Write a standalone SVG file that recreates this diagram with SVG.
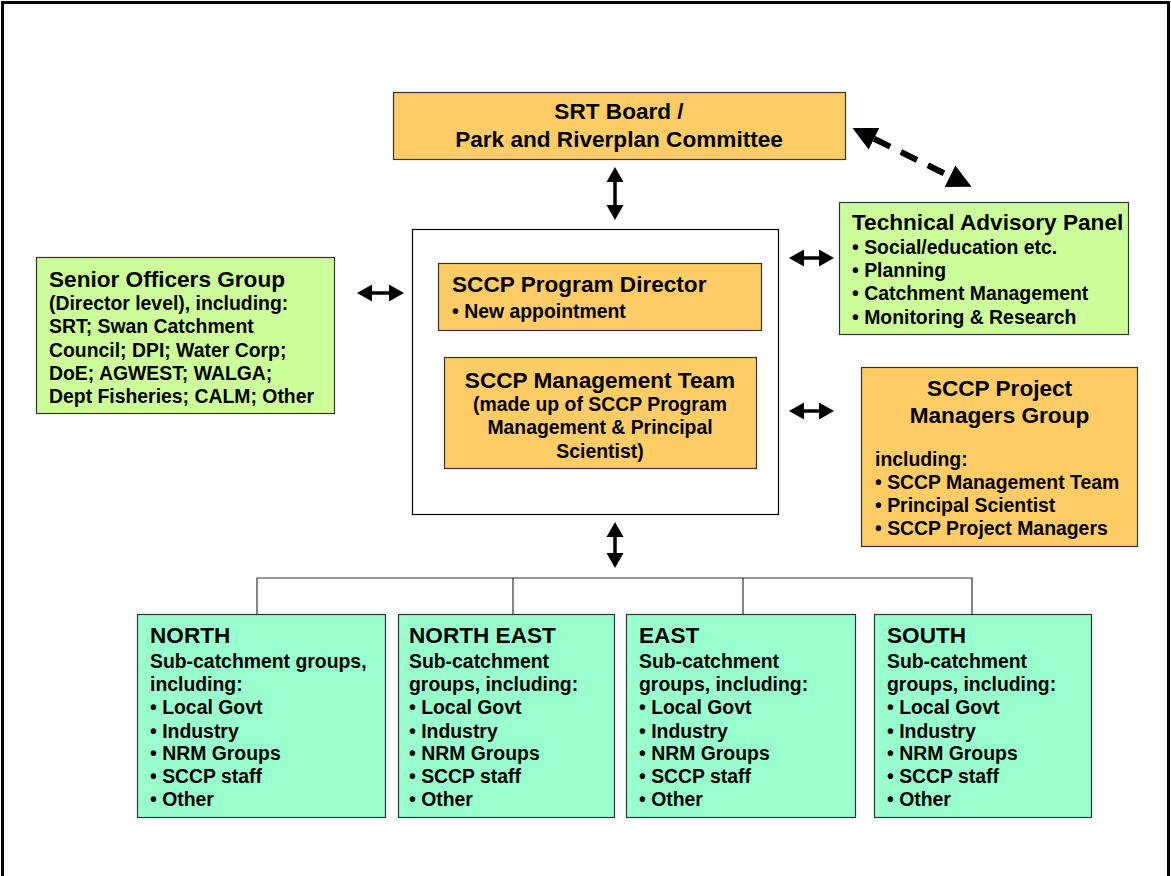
<svg xmlns="http://www.w3.org/2000/svg" width="1171" height="876" viewBox="0 0 1171 876">
<defs>
<style>
text{font-family:"Liberation Sans",Arial,sans-serif;font-weight:bold;fill:#000}
.t{font-size:22.6px}
.s{font-size:19.4px}
.c{text-anchor:middle}
.or{fill:#FFCC66;stroke:#333;stroke-width:1.2}
.lg{fill:#CCFF99;stroke:#333;stroke-width:1.2}
.tg{fill:#99FFCC;stroke:#333;stroke-width:1.2}
.arr{stroke:#000;stroke-width:3.5;fill:none;marker-start:url(#ah);marker-end:url(#ah)}
.dash{stroke:#000;stroke-width:6;fill:none;stroke-dasharray:18 12;marker-start:url(#ahb);marker-end:url(#ahb)}
.tree{stroke:#333;stroke-width:1.2;fill:none}
</style>
<marker id="ah" markerUnits="userSpaceOnUse" viewBox="0 -9 15 18" refX="0" refY="0" markerWidth="15" markerHeight="18" orient="auto-start-reverse">
<path d="M0,-8.5 L15,0 L0,8.5 z" fill="#000"/>
</marker>
<marker id="ahb" markerUnits="userSpaceOnUse" viewBox="0 -13 24 26" refX="0" refY="0" markerWidth="24" markerHeight="26" orient="auto-start-reverse">
<path d="M0,-12 L24,0 L0,12 z" fill="#000"/>
</marker>
</defs>
<rect x="2.5" y="2.5" width="1166" height="900" fill="#fff" stroke="#000" stroke-width="3"/>

<g id="connectors">
<line class="arr" x1="615" y1="182" x2="615" y2="205"/>
<line class="dash" x1="874" y1="138.7" x2="950" y2="176.2"/>
<line class="arr" x1="372" y1="293" x2="389" y2="293"/>
<line class="arr" x1="804" y1="258" x2="819" y2="258"/>
<line class="arr" x1="804" y1="411" x2="819" y2="411"/>
<line class="arr" x1="615" y1="537" x2="615" y2="553"/>
<path class="tree" d="M257,614 V578 H972 V614 M513,578 V614 M743,578 V614"/>
</g>

<g id="srt-board">
<rect class="or" x="393.5" y="92.5" width="452" height="67"/>
<text class="t c" x="619" y="119">SRT Board /</text>
<text class="t c" x="619" y="147">Park and Riverplan Committee</text>
</g>

<g id="sccp-core">
<rect x="412.5" y="229.5" width="366" height="285" fill="#fff" stroke="#000" stroke-width="1.2"/>
</g>

<g id="program-director">
<rect class="or" x="438.5" y="263.5" width="323" height="67"/>
<text class="t" x="452" y="292">SCCP Program Director</text>
<text class="s" x="452" y="318">• New appointment</text>
</g>

<g id="management-team">
<rect class="or" x="444.5" y="357.5" width="312" height="111"/>
<text class="t c" x="600" y="388">SCCP Management Team</text>
<text class="s c" x="600" y="411">(made up of SCCP Program</text>
<text class="s c" x="600" y="434">Management &amp; Principal</text>
<text class="s c" x="600" y="458">Scientist)</text>
</g>

<g id="senior-officers">
<rect class="lg" x="36.5" y="257.5" width="298" height="156"/>
<text class="t" x="49" y="287">Senior Officers Group</text>
<text class="s" x="49" y="310">(Director level), including:</text>
<text class="s" x="49" y="333">SRT; Swan Catchment</text>
<text class="s" x="49" y="357">Council; DPI; Water Corp;</text>
<text class="s" x="49" y="380">DoE; AGWEST; WALGA;</text>
<text class="s" x="49" y="403">Dept Fisheries; CALM; Other</text>
</g>

<g id="technical-advisory">
<rect class="lg" x="839.5" y="202.5" width="289" height="132"/>
<text class="t" x="852" y="230">Technical Advisory Panel</text>
<text class="s" x="852" y="254">• Social/education etc.</text>
<text class="s" x="852" y="277">• Planning</text>
<text class="s" x="852" y="300">• Catchment Management</text>
<text class="s" x="852" y="324">• Monitoring &amp; Research</text>
</g>

<g id="project-managers">
<rect class="or" x="861.5" y="367.5" width="276" height="179"/>
<text class="t c" x="999.5" y="396">SCCP Project</text>
<text class="t c" x="999.5" y="423">Managers Group</text>
<text class="s" x="875" y="466">including:</text>
<text class="s" x="875" y="489">• SCCP Management Team</text>
<text class="s" x="875" y="512">• Principal Scientist</text>
<text class="s" x="875" y="535">• SCCP Project Managers</text>
</g>

<g id="north">
<rect class="tg" x="137.5" y="614.5" width="248" height="203"/>
<text class="t" x="150" y="643">NORTH</text>
<text class="s" x="150" y="668">Sub-catchment groups,</text>
<text class="s" x="150" y="691">including:</text>
<text class="s" x="150" y="714">• Local Govt</text>
<text class="s" x="150" y="738">• Industry</text>
<text class="s" x="150" y="760">• NRM Groups</text>
<text class="s" x="150" y="783">• SCCP staff</text>
<text class="s" x="150" y="806">• Other</text>
</g>

<g id="north-east">
<rect class="tg" x="398.5" y="614.5" width="216" height="203"/>
<text class="t" x="409" y="643">NORTH EAST</text>
<text class="s" x="409" y="668">Sub-catchment</text>
<text class="s" x="409" y="691">groups, including:</text>
<text class="s" x="409" y="714">• Local Govt</text>
<text class="s" x="409" y="738">• Industry</text>
<text class="s" x="409" y="760">• NRM Groups</text>
<text class="s" x="409" y="783">• SCCP staff</text>
<text class="s" x="409" y="806">• Other</text>
</g>

<g id="east">
<rect class="tg" x="626.5" y="614.5" width="229" height="203"/>
<text class="t" x="639" y="643">EAST</text>
<text class="s" x="639" y="668">Sub-catchment</text>
<text class="s" x="639" y="691">groups, including:</text>
<text class="s" x="639" y="714">• Local Govt</text>
<text class="s" x="639" y="738">• Industry</text>
<text class="s" x="639" y="760">• NRM Groups</text>
<text class="s" x="639" y="783">• SCCP staff</text>
<text class="s" x="639" y="806">• Other</text>
</g>

<g id="south">
<rect class="tg" x="874.5" y="614.5" width="217" height="203"/>
<text class="t" x="887" y="643">SOUTH</text>
<text class="s" x="887" y="668">Sub-catchment</text>
<text class="s" x="887" y="691">groups, including:</text>
<text class="s" x="887" y="714">• Local Govt</text>
<text class="s" x="887" y="738">• Industry</text>
<text class="s" x="887" y="760">• NRM Groups</text>
<text class="s" x="887" y="783">• SCCP staff</text>
<text class="s" x="887" y="806">• Other</text>
</g>
</svg>
